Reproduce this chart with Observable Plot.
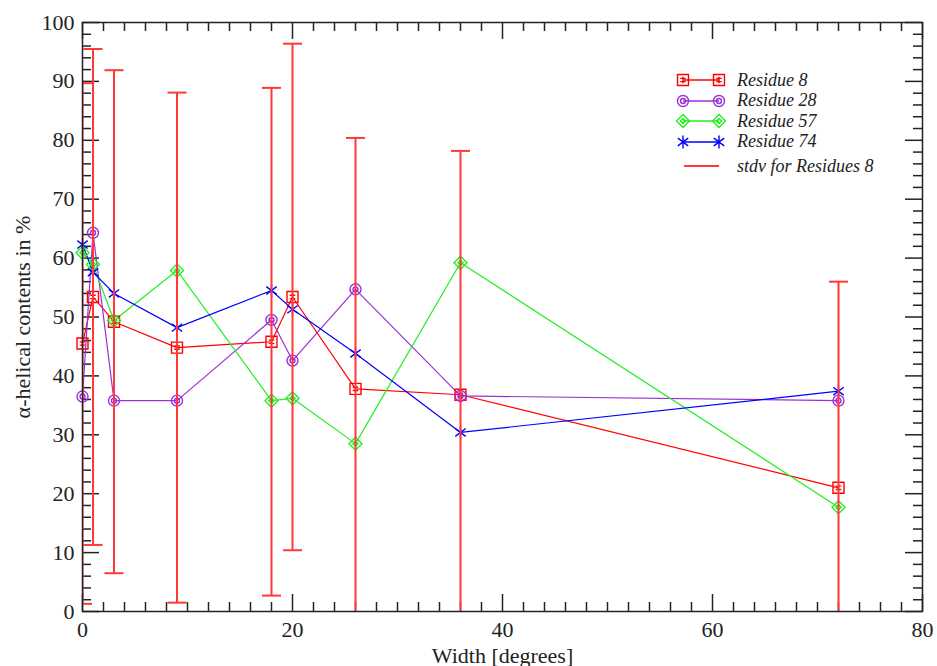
<!DOCTYPE html>
<html><head><meta charset="utf-8">
<script src="https://cdn.jsdelivr.net/npm/d3@7"></script>
<script src="https://cdn.jsdelivr.net/npm/@observablehq/plot@0.6"></script>
<style>
body{margin:0;background:#fff;}
#wrap{position:relative;width:937px;height:666px;}
#legend{position:absolute;left:670px;top:70px;font:italic 18px "Liberation Serif",serif;color:#222;}
#legend .row{display:flex;align-items:center;height:20.5px;}
#legend svg{display:block;}
</style></head><body><div id="wrap"></div>
<script>
// ---- data ----
const widths = [0, 1, 3, 9, 18, 20, 26, 36, 72];
const residue8  = [45.5, 53.4, 49.2, 44.8, 45.8, 53.4, 37.8, 36.8, 21.0];
const residue28 = [36.5, 64.3, 35.8, 35.8, 49.5, 42.6, 54.7, 36.6, 35.8];
const residue57 = [60.9, 58.9, 49.4, 57.9, 35.8, 36.2, 28.5, 59.2, 17.7];
const residue74 = [62.3, 57.6, 54.0, 48.2, 54.5, 51.3, 43.8, 30.4, 37.4];
const stdv8     = [44.2, 42.1, 42.7, 43.3, 43.1, 43.0, 42.6, 41.4, 35.0];
const seriesNames = ["Residue 8", "Residue 28", "Residue 57", "Residue 74"];
const stdvName = "stdv for Residues 8";
const xTicks = [0, 20, 40, 60, 80];
const yTicks = [0, 10, 20, 30, 40, 50, 60, 70, 80, 90, 100];
const xLabel = "Width [degrees]";
const yLabel = "α-helical contents in %";

// ---- styles ----
const colors = ["#ff0000", "#9b30d8", "#22ee22", "#0000ff"];
const errColor = "#ff3838";

// custom symbols (size = pi r^2)
const rad = s => Math.sqrt(s / Math.PI);
const symSquare = {draw(c, s){ const r = rad(s);
  c.moveTo(-r,-r); c.lineTo(r,-r); c.lineTo(r,r); c.lineTo(-r,r); c.closePath();
  c.moveTo(0,-r*0.6); c.lineTo(0,r*0.6);
  c.moveTo(-r*0.5,-r*0.3); c.lineTo(r*0.5,-r*0.3);
  c.moveTo(-r*0.5,r*0.3); c.lineTo(r*0.5,r*0.3);}};
const symCircle = {draw(c, s){ const r = rad(s);
  c.moveTo(r,0); c.arc(0,0,r,0,2*Math.PI);
  const q = r*0.45; c.moveTo(q,0); c.arc(0,0,q,0,2*Math.PI);}};
const symDiamond = {draw(c, s){ const r = rad(s);
  c.moveTo(0,-r); c.lineTo(r,0); c.lineTo(0,r); c.lineTo(-r,0); c.closePath();
  const q = r*0.4; c.moveTo(0,-q); c.lineTo(q,0); c.lineTo(0,q); c.lineTo(-q,0); c.closePath();}};
const symAster = {draw(c, s){ const r = rad(s);
  c.moveTo(0,-r); c.lineTo(0,r);
  const a = r*0.8, b = r*0.6;
  c.moveTo(-a,-b); c.lineTo(a,b); c.moveTo(-a,b); c.lineTo(a,-b);}};
const symCap = {draw(c, s){ const r = rad(s); c.moveTo(-r,0); c.lineTo(r,0);}};
const symbols = [symSquare, symCircle, symDiamond, symAster];
const radii = [5.5, 5.5, 6.5, 6.5];

// ---- tables ----
const allSeries = [residue8, residue28, residue57, residue74];
const rows = [];
allSeries.forEach((vals, si) => vals.forEach((v, i) => rows.push({series: si, x: widths[i], y: v})));
const err = widths.map((w, i) => ({x: w, lo: residue8[i] - stdv8[i], hi: residue8[i] + stdv8[i]}));

// ---- layout ----
const W = 937, H = 666, mL = 82, mR = 15, mT = 22, mB = 55;
const pw = W - mL - mR, ph = H - mT - mB;
const xMinor = d3.range(0, 81, 2).filter(v => !xTicks.includes(v));
const yMinor = d3.range(0, 101, 2).filter(v => !yTicks.includes(v));
const ink = "#222";

const marks = [
  // inward ticks on all 4 sides
  Plot.ruleX(xTicks, {insetTop: ph - 17, stroke: ink, strokeWidth: 1.5}),
  Plot.ruleX(xMinor, {insetTop: ph - 9, stroke: ink, strokeWidth: 1.5}),
  Plot.ruleX(xTicks, {insetBottom: ph - 17, stroke: ink, strokeWidth: 1.5}),
  Plot.ruleX(xMinor, {insetBottom: ph - 9, stroke: ink, strokeWidth: 1.5}),
  Plot.ruleY(yTicks, {insetRight: pw - 17, stroke: ink, strokeWidth: 1.5}),
  Plot.ruleY(yMinor, {insetRight: pw - 9, stroke: ink, strokeWidth: 1.5}),
  Plot.ruleY(yTicks, {insetLeft: pw - 17, stroke: ink, strokeWidth: 1.5}),
  Plot.ruleY(yMinor, {insetLeft: pw - 9, stroke: ink, strokeWidth: 1.5}),
  Plot.axisX(xTicks, {tickSize: 0, tickPadding: 10, fontSize: 22, label: null}),
  Plot.axisY(yTicks, {tickSize: 0, tickPadding: 8, fontSize: 22, label: null}),
  Plot.text([xLabel], {frameAnchor: "bottom", dy: 44, lineAnchor: "middle", fontSize: 22, fill: ink}),
  Plot.text([yLabel], {frameAnchor: "left", dx: -60, rotate: -90, lineAnchor: "middle", textAnchor: "middle", fontSize: 22, fill: ink}),
];
allSeries.forEach((vals, si) => {
  marks.push(Plot.line(rows.filter(d => d.series === si), {x: "x", y: "y", stroke: colors[si], strokeWidth: 1.2}));
});
allSeries.forEach((vals, si) => {
  marks.push(Plot.dot(rows.filter(d => d.series === si), {x: "x", y: "y", symbol: symbols[si], r: radii[si], stroke: colors[si], fill: "none", strokeWidth: 1.4}));
});
marks.push(
  Plot.ruleX(err, {x: "x", y1: d => Math.max(0, d.lo), y2: "hi", stroke: errColor, strokeWidth: 2, clip: true}),
  Plot.dot(err, {x: "x", y: "hi", symbol: symCap, r: 9.5, stroke: errColor, strokeWidth: 2, clip: true}),
  Plot.dot(err, {x: "x", y: "lo", symbol: symCap, r: 9.5, stroke: errColor, strokeWidth: 2, clip: true}),
  Plot.frame({stroke: ink, strokeWidth: 1.5})
);

const chart = Plot.plot({
  width: W, height: H,
  marginLeft: mL, marginRight: mR, marginTop: mT, marginBottom: mB,
  style: {fontFamily: '"Liberation Serif", "Times New Roman", serif', background: "white", color: ink, overflow: "visible"},
  x: {domain: [0, 80]},
  y: {domain: [0, 100]},
  marks
});
const wrap = document.getElementById("wrap");
wrap.appendChild(chart);

// ---- legend ----
const legend = d3.select(wrap).append("div").attr("id", "legend");
seriesNames.forEach((name, si) => {
  const row = legend.append("div").attr("class", "row");
  const svg = row.append("svg").attr("width", 67).attr("height", 20);
  svg.append("line").attr("x1", 13).attr("x2", 49).attr("y1", 10).attr("y2", 10)
    .attr("stroke", colors[si]).attr("stroke-width", 1.4);
  const sym = d3.symbol().type(symbols[si]).size(Math.PI * radii[si] * radii[si]);
  [13, 49].forEach(cx => svg.append("path").attr("d", sym()).attr("transform", `translate(${cx},10)`)
    .attr("fill", "none").attr("stroke", colors[si]).attr("stroke-width", 1.4));
  row.append("span").text(name);
});
{
  const row = legend.append("div").attr("class", "row").style("margin-top", "4px");
  const svg = row.append("svg").attr("width", 67).attr("height", 20);
  svg.append("line").attr("x1", 14).attr("x2", 49).attr("y1", 10).attr("y2", 10)
    .attr("stroke", errColor).attr("stroke-width", 2);
  row.append("span").text(stdvName);
}
</script>
</body></html>
